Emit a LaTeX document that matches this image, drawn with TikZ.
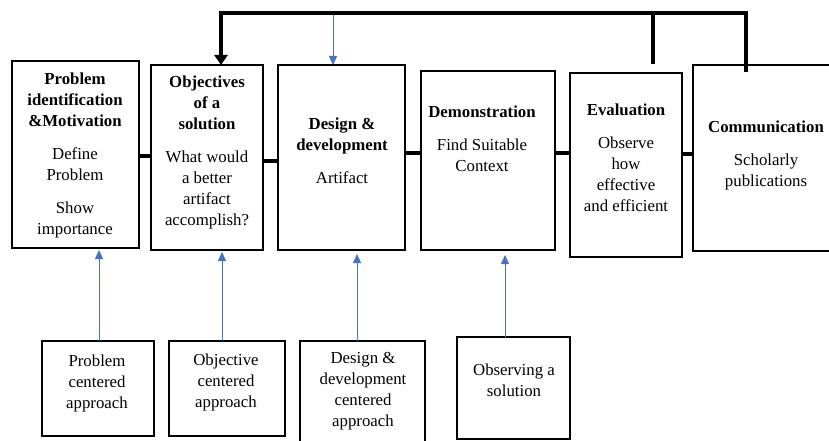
\documentclass[tikz,border=0pt]{standalone}
\usepackage{fontspec}
\setmainfont{Liberation Serif}
\usetikzlibrary{arrows.meta}
\definecolor{arrowblue}{RGB}{68,114,196}
\begin{document}
\begin{tikzpicture}[x=1pt,y=-1pt,
  box/.style={draw, line width=1.6pt, outer sep=0pt, inner sep=0pt},
  txt/.style={align=center, inner sep=0pt, anchor=north, font=\fontsize{16.8}{21}\selectfont},
  link/.style={line width=4pt},
  feedback/.style={line width=4pt},
  upar/.style={draw=arrowblue, line width=1pt, -{Triangle[width=8pt,length=9pt]}}]
\useasboundingbox (0,0) rectangle (829,441);

% top boxes
\node[box, minimum width=127pt, minimum height=187pt] (b1) at (75.5,154.5) {};
\node[box, minimum width=112pt, minimum height=185pt] (b2) at (207,157.5) {};
\node[box, minimum width=127pt, minimum height=185pt] (b3) at (341.5,157.5) {};
\node[box, minimum width=134pt, minimum height=179pt] (b4) at (488,160.5) {};
\node[box, minimum width=112pt, minimum height=184pt] (b5) at (626,165) {};
\node[box, minimum width=146pt, minimum height=186pt] (b6) at (766,158) {};

% top texts
\node[txt] (t1) at (75,73) {\textbf{Problem}\\\textbf{identification}\\\textbf{\&Motivation}\\[12pt]Define\\Problem\\[12pt]Show\\importance};
\node[txt] (t2) at (207,76) {\textbf{Objectives}\\\textbf{of a}\\\textbf{solution}\\[12pt]What would\\a better\\artifact\\accomplish?};
\node[txt] (t3) at (342,118) {\textbf{Design \&}\\\textbf{development}\\[12pt]Artifact};
\node[txt] (t4) at (482,106) {\textbf{Demonstration}\\[12pt]Find Suitable\\Context};
\node[txt] (t5) at (626,104) {\textbf{Evaluation}\\[12pt]Observe\\how\\effective\\and efficient};
\node[txt] (t6) at (766,121) {\textbf{Communication}\\[12pt]Scholarly\\publications};

% bottom boxes
\node[box, minimum width=112pt, minimum height=95pt] (p1) at (98,388.5) {};
\node[box, minimum width=116pt, minimum height=95pt] (p2) at (227,388.5) {};
\node[box, minimum width=125pt, minimum height=105pt] (p3) at (362.5,393.5) {};
\node[box, minimum width=113pt, minimum height=102pt] (p4) at (513.5,388) {};

\node[txt] (s1) at (97,355) {Problem\\centered\\approach};
\node[txt] (s2) at (226,354) {Objective\\centered\\approach};
\node[txt] (s3) at (363,352) {Design \&\\development\\centered\\approach};
\node[txt] (s4) at (514,364) {Observing a\\solution};

% links between steps
\coordinate (l12) at (0,156);
\coordinate (l23) at (0,161);
\coordinate (l34) at (0,153);
\coordinate (l45) at (0,153);
\coordinate (l56) at (0,154);
\draw[link] (b1.east |- l12) -- (b2.west |- l12);
\draw[link] (b2.east |- l23) -- (b3.west |- l23);
\draw[link] (b3.east |- l34) -- (b4.west |- l34);
\draw[link] (b4.east |- l45) -- (b5.west |- l45);
\draw[link] (b5.east |- l56) -- (b6.west |- l56);

% feedback bracket
\coordinate (fbl) at (221,13);
\coordinate (fb5) at (653,64);
\coordinate (fb6) at (746,72);
\draw[feedback, -{Triangle[width=13pt,length=10pt]}] (fb6) |- (fbl) -- (fbl |- b2.north);
\draw[feedback] (fb5) -- (fb5 |- fbl);
\coordinate (bt) at (333,15);
\draw[upar] (bt) -- (bt |- b3.north);

% blue arrows from bottom boxes
\coordinate (a1) at (99,341);
\coordinate (a2) at (222,341);
\coordinate (a3) at (357,341);
\coordinate (a4) at (505,338);
\draw[upar] (a1) -- ([yshift=-2pt]a1 |- b1.south);
\draw[upar] (a2) -- ([yshift=-2pt]a2 |- b2.south);
\draw[upar] (a3) -- ([yshift=-4pt]a3 |- b3.south);
\draw[upar] (a4) -- ([yshift=-5pt]a4 |- b4.south);
\end{tikzpicture}
\end{document}
